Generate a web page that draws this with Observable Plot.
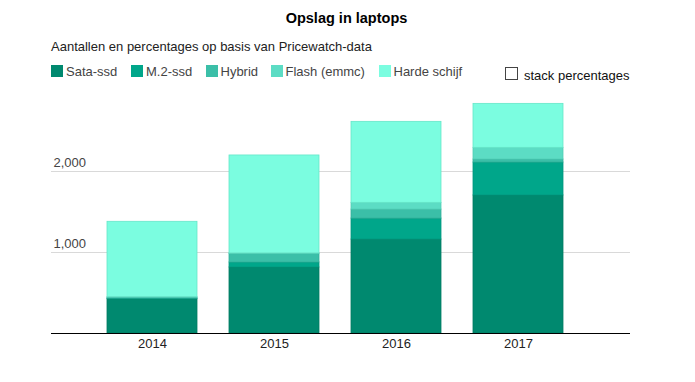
<!DOCTYPE html>
<html>
<head>
<meta charset="utf-8">
<script src="https://cdn.jsdelivr.net/npm/d3@7"></script>
<script src="https://cdn.jsdelivr.net/npm/@observablehq/plot@0.6"></script>
<style>
  html, body { margin: 0; padding: 0; background: #fff; }
  #wrap { position: relative; width: 695px; height: 382px; font-family: "Liberation Sans", Arial, sans-serif; overflow: hidden; }
  #chart { position: absolute; left: 0; top: 0; }
  .abs { position: absolute; white-space: nowrap; }
  #title { left: 0; width: 693px; text-align: center; top: 10px; font-size: 14.5px; line-height: 16px; font-weight: bold; color: #000; }
  #subtitle { left: 51px; top: 39px; font-size: 13px; line-height: 15px; color: #222; }
  .sw { position: absolute; width: 12px; height: 12px; top: 65px; }
  .lt { position: absolute; top: 64px; font-size: 13px; line-height: 15px; color: #444; }
  #cb { position: absolute; left: 505px; top: 67px; width: 11px; height: 11px; border: 1px solid #444; background: #fff; }
  #cbt { position: absolute; left: 524px; top: 68px; font-size: 13px; line-height: 15px; color: #111; }
</style>
</head>
<body>
<div id="wrap">
  <div id="chart"></div>
  <div id="title" class="abs"></div>
  <div id="subtitle" class="abs"></div>
  <div id="legend"></div>
  <div id="cb"></div>
  <div id="cbt" class="abs"></div>
</div>
<script>
// ---- data ----
const titleText = "Opslag in laptops";
const subtitleText = "Aantallen en percentages op basis van Pricewatch-data";
const checkboxText = "stack percentages";
const years = ["2014", "2015", "2016", "2017"];
const seriesNames = ["Sata-ssd", "M.2-ssd", "Hybrid", "Flash (emmc)", "Harde schijf"];
const sataSsd = [423, 815, 1160, 1704];
const m2Ssd = [8, 62, 259, 407];
const hybrid = [10, 107, 111, 37];
const flash = [8, 5, 83, 144];
const hardeSchijf = [930, 1209, 1000, 543];
const yTicks = [1000, 2000];
const yTickLabels = ["1,000", "2,000"];
const colors = ["#00896f", "#00a68a", "#3bbfa8", "#5cdcc4", "#7bfde0"];
const strokes = ["#007a62", "#00977d", "#33b09a", "#52cdb5", "#66e6c9"];

const seriesValues = [sataSsd, m2Ssd, hybrid, flash, hardeSchijf];
const rows = [];
years.forEach((yr, i) => {
  seriesNames.forEach((s, j) => {
    rows.push({year: yr, series: s, value: seriesValues[j][i]});
  });
});

// ---- header ----
document.getElementById("title").textContent = titleText;
document.getElementById("subtitle").textContent = subtitleText;
document.getElementById("cbt").textContent = checkboxText;
const legendX = [[51, 66], [131, 146], [205.5, 220.5], [270.5, 285.5], [378.5, 393.5]];
const legend = document.getElementById("legend");
seriesNames.forEach((s, j) => {
  const sw = document.createElement("div");
  sw.className = "sw";
  sw.style.left = legendX[j][0] + "px";
  sw.style.background = colors[j];
  legend.appendChild(sw);
  const t = document.createElement("div");
  t.className = "lt";
  t.style.left = legendX[j][1] + "px";
  t.textContent = s;
  legend.appendChild(t);
});

// ---- chart ----
const chart = Plot.plot({
  width: 695,
  height: 382,
  marginLeft: 51,
  marginRight: 65,
  marginTop: 90,
  marginBottom: 49,
  style: {fontFamily: "'Liberation Sans', Arial, sans-serif", fontSize: "13px", background: "transparent"},
  x: {domain: years, range: [75, 595], padding: 0.262, axis: null},
  y: {domain: [0, 3000], range: [333, 90], axis: null},
  color: {domain: seriesNames, range: colors},
  marks: [
    Plot.ruleY(yTicks, {y: d => d, stroke: "#d9d9d9", strokeWidth: 1}),
    Plot.barY(rows, Plot.stackY({order: null}, {
      x: "year", y: "value", fill: "series",
      stroke: d => strokes[seriesNames.indexOf(d.series)],
      strokeWidth: 0.8
    })),
    Plot.ruleY([0], {stroke: "#000", strokeWidth: 1}),
    Plot.text(yTicks, {y: d => d, text: (d, i) => yTickLabels[i], frameAnchor: "left", dx: 2, dy: -9, textAnchor: "start", fill: "#444", fontSize: 13}),
    Plot.text(years, {x: d => d, text: d => d, frameAnchor: "bottom", dy: 14, fill: "#222", fontSize: 13})
  ]
});
document.getElementById("chart").appendChild(chart);
</script>
</body>
</html>
